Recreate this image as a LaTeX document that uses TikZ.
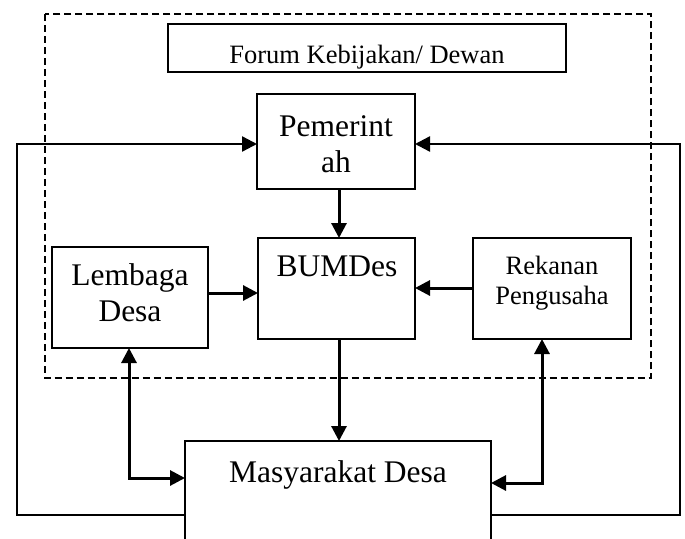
\documentclass[tikz,border=0pt]{standalone}
\usepackage{fontspec}
\setmainfont{Liberation Serif}
\usetikzlibrary{arrows.meta}
\begin{document}
\begin{tikzpicture}[x=1pt,y=-1pt,
  box/.style={draw,line width=2.6pt,inner sep=0pt,outer sep=0pt,anchor=north west},
  tip/.style={-{Triangle[length=15pt,width=15pt]}},
  conn/.style={line width=3pt,tip},
  twoway/.style={line width=3pt,{Triangle[length=15pt,width=15pt]}-{Triangle[length=15pt,width=15pt]}},
  loopline/.style={line width=2.4pt,tip},
  big/.style={font=\fontsize{31.5}{36}\selectfont,align=center,inner sep=0pt,anchor=base},
  small/.style={font=\fontsize{26.5}{30}\selectfont,align=center,inner sep=0pt,anchor=base},
  dashbox/.style={line width=1.8pt,dash pattern=on 7pt off 4pt}]
\useasboundingbox (0,0) rectangle (685,538);
\clip (0,0) rectangle (685,538);
% forum area
\draw[dashbox] (44.6,14) rectangle (651,378);
% boxes
\node[box,minimum width=398pt,minimum height=48pt] (forum) at (168,24) {};
\node[box,minimum width=158pt,minimum height=95pt] (pem) at (257,94) {};
\node[box,minimum width=157pt,minimum height=101pt] (bum) at (258,238) {};
\node[box,minimum width=156pt,minimum height=101pt] (lem) at (52,247) {};
\node[box,minimum width=158pt,minimum height=101pt] (rek) at (473,238) {};
\node[box,minimum width=306pt,minimum height=140pt] (mas) at (185,441) {};
% labels (base = baseline of the last line)
\node[small] (forumt) at (367,63) {Forum Kebijakan/ Dewan};
\node[big] (pemt) at (336,172) {Pemerint\\ah};
\node[big] (bumt) at (337,276) {BUMDes};
\node[big] (lemt) at (130,321) {Lembaga\\Desa};
\node[small] (rekt) at (552,304) {Rekanan\\Pengusaha};
\node[big] (mast) at (338,482) {Masyarakat Desa};
% helper coordinates
\coordinate (cx) at (339,0);
\coordinate (ly) at (0,293);
\coordinate (lm) at (129,478);
\coordinate (rm) at (542,483);
\coordinate (lt) at (17,144);
\coordinate (lb) at (17,515);
\coordinate (rt) at (680,144);
\coordinate (rb) at (680,515);
% connectors
\draw[conn] (pem.south -| cx) -- (bum.north -| cx);
\draw[conn] (bum.south -| cx) -- (mas.north -| cx);
\draw[conn] (lem.east |- ly) -- (bum.west |- ly);
\draw[conn] (rek.west |- 0,288) -- (bum.east |- 0,288);
\draw[twoway] (lem.south -| lm) -- (lm) -- (mas.west |- lm);
\draw[twoway] (rek.south -| rm) -- (rm) -- (mas.east |- rm);
\draw[loopline] (mas.west |- lb) -- (lb) -- (lt) -- (pem.west |- lt);
\draw[loopline] (mas.east |- rb) -- (rb) -- (rt) -- (pem.east |- rt);
\end{tikzpicture}
\end{document}
